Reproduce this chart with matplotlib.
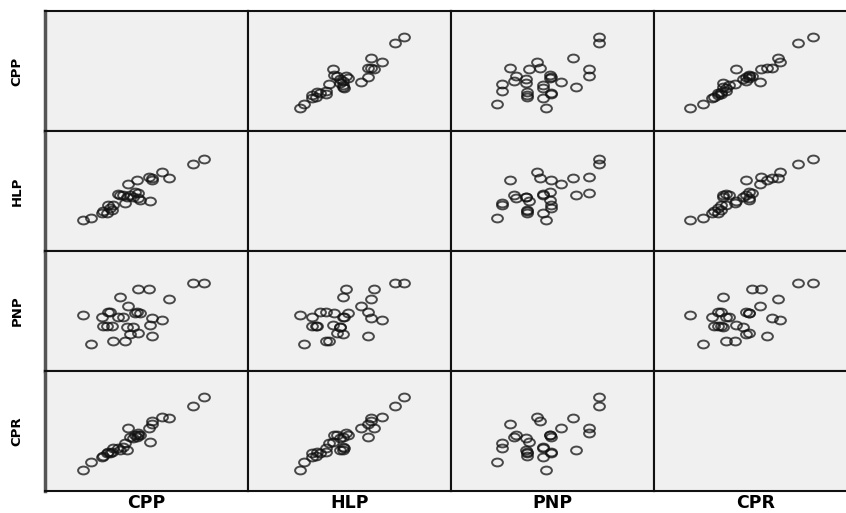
import numpy as np
import matplotlib
matplotlib.use("Agg")
import matplotlib.pyplot as plt
from matplotlib.path import Path
from matplotlib.transforms import Affine2D

# variables (values on a 0-100 scale, same scale on every panel)
names = ["CPP", "HLP", "PNP", "CPR"]

CPP = [18.9, 22.5, 27.9, 28.7, 30.4, 31.2, 32.0, 32.8, 33.7, 36.1,
       36.9, 38.6, 39.4, 40.2, 41.0, 41.9, 43.5, 44.3, 45.2, 45.6,
       46.0, 46.8, 51.4, 51.7, 52.5, 52.9, 57.5, 61.2, 73.1, 78.3]
HLP = [25.8, 27.8, 31.4, 33.3, 31.4, 38.3, 35.6, 34.2, 38.3, 47.2,
       46.7, 46.7, 39.7, 45.3, 55.6, 46.7, 45.3, 49.4, 59.2, 43.9,
       48.1, 42.5, 61.9, 41.7, 60.6, 59.2, 66.1, 60.6, 72.2, 76.7]
PNP = [46.7, 22.5, 45.3, 37.5, 37.5, 49.4, 49.4, 37.5, 25.0, 45.3,
       61.4, 45.3, 25.3, 36.9, 54.2, 30.8, 36.9, 48.6, 49.4, 31.9,
       68.1, 48.6, 68.1, 38.3, 43.9, 29.2, 42.5, 60.0, 73.1, 73.1]
CPR = [17.5, 23.9, 28.6, 29.4, 31.4, 32.8, 31.4, 32.8, 35.6, 35.6,
       34.2, 36.9, 39.7, 34.2, 52.2, 45.3, 43.9, 46.7, 45.3, 46.7,
       48.1, 46.7, 52.8, 40.6, 58.3, 55.6, 61.9, 61.1, 71.1, 78.1]

data = [np.array(CPP), np.array(HLP), np.array(PNP), np.array(CPR)]

W, H = 846, 513
fig = plt.figure(figsize=(W / 100, H / 100), dpi=100)

# picture is stretched sideways, so circles look like wide ellipses
circ = Path.unit_circle()
ell = Affine2D().scale(1.38, 1.0).transform_path(circ)

left0, top0 = 45, 11
cw, rh = 203, 120

for i in range(4):
    for j in range(4):
        x0 = left0 + j * cw
        y0 = top0 + (i + 1) * rh
        ax = fig.add_axes([x0 / W, 1 - y0 / H, cw / W, rh / H])
        ax.set_facecolor("#f0f0f0")
        ax.set_xlim(0, 100)
        ax.set_ylim(0, 100)
        ax.set_xticks([])
        ax.set_yticks([])
        for s in ax.spines.values():
            s.set_linewidth(1.5)
            s.set_color("#111111")
        if j == 0:
            ax.spines["left"].set_linewidth(2.5)
            ax.spines["left"].set_color("#555555")
        if i != j:
            ax.plot(data[j], data[i], linestyle="none", marker=ell,
                    markersize=7.8, markerfacecolor="none",
                    markeredgecolor="#111111", markeredgewidth=1.4,
                    alpha=0.75)

# row labels
for i, n in enumerate(names):
    yc = top0 + i * rh + rh / 2
    fig.text(17 / W, 1 - yc / H, n, rotation=90, ha="center", va="center",
             fontsize=9.5, fontweight="bold", family="DejaVu Sans")

# column labels
for j, n in enumerate(names):
    xc = left0 + j * cw + cw / 2
    fig.text(xc / W, 1 - 503 / H, n, ha="center", va="center",
             fontsize=12.5, fontweight="bold", family="DejaVu Sans")

fig.savefig("out.png", dpi=100, facecolor="white")
